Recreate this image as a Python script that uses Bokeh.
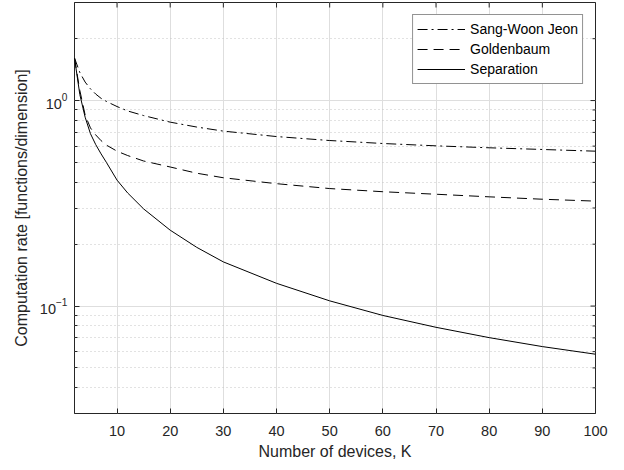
import math
from bokeh.plotting import figure
from bokeh.models import Range1d, FixedTicker, Legend, LegendItem
from bokeh.embed import file_html
from bokeh.resources import INLINE

# ---- data ----
K = [2, 3, 4, 5, 6, 7, 8, 10, 12, 15, 20, 25, 30, 40, 50, 60, 70, 80, 90, 100]
sang_woon = [1.61, 1.37, 1.23, 1.14, 1.075, 1.025, 0.99, 0.935, 0.89, 0.845, 0.785,
             0.743, 0.71, 0.668, 0.639, 0.618, 0.602, 0.589, 0.578, 0.567]
goldenbaum = [1.61, 1.12, 0.85, 0.736, 0.68, 0.638, 0.607, 0.567, 0.54, 0.508, 0.475,
              0.443, 0.421, 0.394, 0.373, 0.360, 0.350, 0.340, 0.331, 0.324]
separation = [1.61, 1.07, 0.83, 0.69, 0.61, 0.55, 0.50, 0.41, 0.355, 0.297, 0.234,
              0.193, 0.164, 0.129, 0.106, 0.090, 0.0788, 0.0702, 0.0635, 0.0583]

x_ticks = [10, 20, 30, 40, 50, 60, 70, 80, 90, 100]
y_major = [0.1, 1.0]
y_minor = [0.03, 0.04, 0.05, 0.06, 0.07, 0.08, 0.09,
           0.2, 0.3, 0.4, 0.5, 0.6, 0.7, 0.8, 0.9, 2.0, 3.0]
X_MIN, X_MAX = 2, 100
Y_MIN, Y_MAX = 0.03, 3

FONT = "Liberation Sans"
AX = "#262626"

p = figure(frame_width=521, frame_height=411,
           x_range=Range1d(X_MIN, X_MAX), y_range=Range1d(Y_MIN, Y_MAX),
           y_axis_type="log", output_backend="svg", toolbar_location=None,
           min_border_left=74, min_border_top=2, min_border_right=14,
           min_border_bottom=48)

p.outline_line_color = AX
p.outline_line_width = 1
p.background_fill_color = "white"

xt = FixedTicker(ticks=x_ticks)
yt = FixedTicker(ticks=y_major, minor_ticks=y_minor)

for ax in (p.xaxis[0], p.yaxis[0]):
    ax.axis_line_color = None
    ax.major_tick_line_color = AX
    ax.minor_tick_line_color = AX
    ax.major_tick_in = 5
    ax.major_tick_out = 0
    ax.minor_tick_in = 3
    ax.minor_tick_out = 0
    ax.major_label_text_font = FONT
    ax.major_label_text_color = AX
    ax.major_label_text_font_size = "14.5px"
    ax.axis_label_text_font = FONT
    ax.axis_label_text_color = AX
    ax.axis_label_text_font_style = "normal"
    ax.axis_label_text_font_size = "16px"

p.xaxis.ticker = xt
p.yaxis.ticker = yt
p.xaxis.minor_tick_line_color = None
p.xaxis.axis_label = "Number of devices, K"
p.yaxis.axis_label = "Computation rate [functions/dimension]"
p.xaxis.major_label_standoff = 12
p.xaxis.axis_label_standoff = 4
p.yaxis.major_label_standoff = 7
p.yaxis.axis_label_standoff = 7

# tick marks on the top and right edges of the box (MATLAB "box on")
p.ray(x=x_ticks, y=[Y_MAX] * len(x_ticks), length=5, length_units="screen",
      angle=-math.pi / 2, line_color=AX, line_width=1)
p.ray(x=[X_MAX] * len(y_major), y=y_major, length=5, length_units="screen",
      angle=math.pi, line_color=AX, line_width=1)
p.ray(x=[X_MAX] * len(y_minor), y=y_minor, length=3, length_units="screen",
      angle=math.pi, line_color=AX, line_width=1)

# grids
p.xgrid.ticker = xt
p.ygrid.ticker = yt
p.xgrid.grid_line_color = "#dedede"
p.ygrid.grid_line_color = "#dedede"
p.xgrid.grid_line_width = 1
p.ygrid.grid_line_width = 1
p.ygrid.minor_grid_line_color = "#c4c4c4"
p.ygrid.minor_grid_line_dash = "1 3"
p.ygrid.minor_grid_line_width = 1

r1 = p.line(K, sang_woon, line_color="black", line_width=1, line_dash="10 4 2 4")
r2 = p.line(K, goldenbaum, line_color="black", line_width=1, line_dash="10 6")
r3 = p.line(K, separation, line_color="black", line_width=1)

legend = Legend(items=[LegendItem(label="Sang-Woon Jeon", renderers=[r1]),
                       LegendItem(label="Goldenbaum", renderers=[r2]),
                       LegendItem(label="Separation", renderers=[r3])],
                location="top_right")
legend.margin = 12
legend.padding = 4
legend.spacing = 0
legend.glyph_width = 48
legend.glyph_height = 20
legend.label_height = 20
legend.label_standoff = 5
legend.label_text_font = FONT
legend.label_text_font_size = "14px"
legend.label_text_color = "black"
legend.border_line_color = AX
legend.border_line_width = 1
legend.background_fill_color = "white"
legend.background_fill_alpha = 1
p.add_layout(legend)

open("out.html", "w").write(file_html(p, INLINE))
